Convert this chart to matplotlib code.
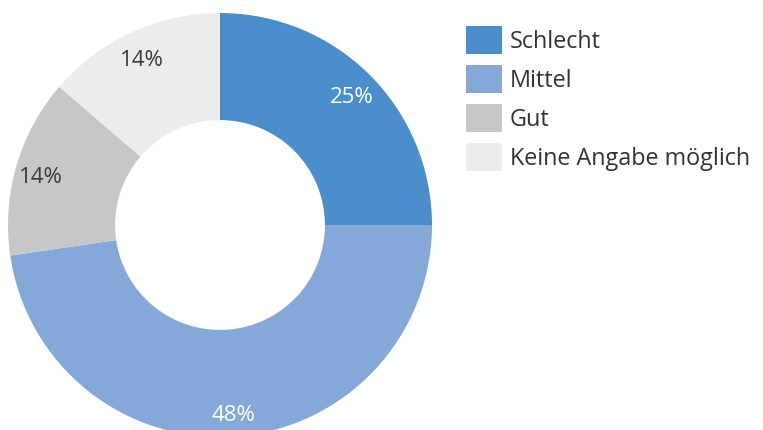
import matplotlib
matplotlib.use("Agg")
import matplotlib.pyplot as plt
from matplotlib.patches import Rectangle
import numpy as np

categories = ["Schlecht", "Mittel", "Gut", "Keine Angabe möglich"]
values = [25, 47.7, 13.6, 13.7]
pct_labels = ["25%", "48%", "14%", "14%"]
colors = ["#4a8fcb", "#84a9d8", "#c6c7c8", "#ebeceb"]
label_colors = ["white", "white", "#3a3a3a", "#3a3a3a"]

plt.rcParams['font.family'] = ['Open Sans', 'DejaVu Sans']

W, H = 763, 430
fig = plt.figure(figsize=(W / 100, H / 100), dpi=100)
ax = fig.add_axes([0, 0, 1, 1])
cx, cy, R = 220, 225, 212

wedges, _ = ax.pie(values, colors=colors, startangle=90, counterclock=False,
                   radius=1.0, wedgeprops=dict(width=0.505, linewidth=0))
ax.set_aspect('auto')
ax.set_xlim(-cx / R, (W - cx) / R)
ax.set_ylim(-(H - cy) / R, cy / R)
ax.axis('off')

total = sum(values)
cum = 0
for v, lab, lc in zip(values, pct_labels, label_colors):
    mid = cum + v / 2
    cum += v
    ang = np.deg2rad(90 - mid / total * 360)
    r = 0.88
    ax.text(r * np.cos(ang), r * np.sin(ang) - 0.022, lab, ha='center', va='center',
            fontsize=16, color=lc)

# legend
for i, (cat, col) in enumerate(zip(categories, colors)):
    top = 26 + i * 39
    fig.patches.append(Rectangle((466 / W, 1 - (top + 28) / H), 36 / W, 28 / H,
                                 transform=fig.transFigure, color=col, linewidth=0))
    fig.text(510 / W, 1 - (top + 16) / H, cat, ha='left', va='center',
             fontsize=16.8, color='#333333')

fig.savefig("out.png", dpi=100)
